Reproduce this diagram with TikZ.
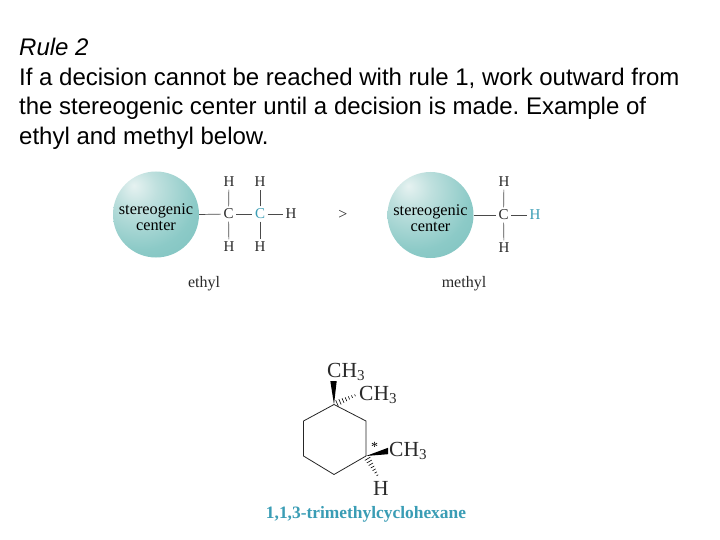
\documentclass[tikz,border=0pt]{standalone}
\usepackage{fontspec}
\setmainfont{Liberation Sans}
\newfontfamily\chemfont{Liberation Serif}
\usetikzlibrary{calc}
\definecolor{tealtext}{HTML}{3A9DB5}
\definecolor{inktext}{HTML}{2A2A2A}
\definecolor{ballA}{HTML}{E6F2F1}
\definecolor{ballB}{HTML}{BFE0DE}
\definecolor{ballC}{HTML}{8CCAC7}
\definecolor{ballD}{HTML}{6FBAB8}
\pgfdeclareradialshading{ballshade}{\pgfpoint{-13bp}{17bp}}{%
  color(0bp)=(ballA);
  color(12bp)=(ballB);
  color(32bp)=(ballC);
  color(62bp)=(ballD);
  color(100bp)=(ballD)}
\tikzset{
  headline/.style={anchor=base west,inner sep=0pt,font=\fontsize{24}{28}\selectfont,text=black},
  atom/.style={inner sep=2.5pt,font=\chemfont\fontsize{15}{15}\selectfont,text=inktext},
  tealatom/.style={atom,text=tealtext},
  caption/.style={inner sep=0pt,font=\chemfont\fontsize{16}{16}\selectfont,text=inktext},
  balltext/.style={inner sep=0pt,align=center,font=\chemfont\fontsize{16.3}{16.5}\selectfont,text=black},
  bond/.style={draw=inktext!85,line width=0.7pt},
  ball/.style={circle,minimum size=86pt,inner sep=0pt,shading=ballshade},
  big/.style={inner sep=0pt,font=\chemfont\fontsize{21.5}{22}\selectfont,text=inktext},
  ringbond/.style={draw=black!85,line width=0.8pt,line join=round},
  wedgefill/.style={fill=black,draw=none},
  hash/.style={draw=black,line width=0.6pt}
}
\newcommand{\hashbond}[3]{% from, to, steps
  \foreach \i in {1,...,#3}{
    \pgfmathsetmacro{\t}{\i/(#3+1)}
    \pgfmathsetmacro{\hw}{0.6+3*(1-\t)}
    \draw[hash] ($(#1)!\t!(#2)!\hw pt!90:(#2)$) -- ($(#1)!\t!(#2)!\hw pt!-90:(#2)$);
  }}
\begin{document}
\frenchspacing
\begin{tikzpicture}[x=1pt,y=-1pt]
\useasboundingbox (0,0) rectangle (720,540);
\fill[white] (0,0) rectangle (720,540);
% heading
\node[headline] (l1) at (19,56) {\itshape Rule 2};
\node[headline] (l2) at (19,85.5) {If a decision cannot be reached with rule 1, work outward from};
\node[headline] (l3) at (19,115) {the stereogenic center until a decision is made. Example of};
\node[headline] (l4) at (19,144.5) {ethyl and methyl below.};
% ethyl
\node[ball] (b1) at (156,214.5) {};
\node[balltext] (b1t) at (156,217) {stereogenic\\center};
\node[atom] (c1) at (228.5,214) {C};
\node[tealatom] (c2) at (260,214) {C};
\node[atom] (h1) at (291,214) {H};
\node[atom] (h2) at (229,182) {H};
\node[atom] (h3) at (260,182) {H};
\node[atom] (h4) at (229,247) {H};
\node[atom] (h5) at (260,247) {H};
\draw[bond] (b1.east) -- (c1);
\draw[bond] (c1) -- (c2);
\draw[bond] (c2) -- (h1);
\draw[bond] (c1) -- (h2);
\draw[bond] (c2) -- (h3);
\draw[bond] (c1) -- (h4);
\draw[bond] (c2) -- (h5);
\node[caption] (e) at (204,283.5) {ethyl};
\node[caption] (gt) at (343,215) {>};
% methyl
\node[ball] (b2) at (430.5,215) {};
\node[balltext] (b2t) at (430.5,218) {stereogenic\\center};
\node[atom] (c3) at (503.5,215) {C};
\node[tealatom] (h6) at (535,215) {H};
\node[atom] (h7) at (504,182) {H};
\node[atom] (h8) at (504,248) {H};
\draw[bond] (b2.east) -- (c3);
\draw[bond] (c3) -- (h6);
\draw[bond] (c3) -- (h7);
\draw[bond] (c3) -- (h8);
\node[caption] (m) at (464,283.5) {methyl};
% ring
\coordinate (r1) at (334,404.5);
\coordinate (r2) at (366,421);
\coordinate (r3) at (366,456);
\coordinate (r4) at (334,474.5);
\coordinate (r5) at (303.5,456);
\coordinate (r6) at (303.5,421);
\draw[ringbond] (r1) -- (r2) -- (r3) -- (r4) -- (r5) -- (r6) -- cycle;
\node[big,anchor=west] (m1) at (327,372) {CH\textsubscript{3}};
\node[big,anchor=west] (m2) at (359,395) {CH\textsubscript{3}};
\node[big,anchor=west] (m3) at (389,451) {CH\textsubscript{3}};
\node[big] (hh) at (381,488.5) {H};
\node[inner sep=0pt,font=\chemfont\fontsize{14}{14}\selectfont] (star) at (374.5,447) {*};
\coordinate (w1) at (333.5,381);
\coordinate (w2) at (388,451);
\coordinate (d1) at (358,394);
\coordinate (d2) at (379,478);
\fill[wedgefill] (r1) -- ($(w1)+(-3.2,0)$) -- ($(w1)+(3.2,0)$) -- cycle;
\fill[wedgefill] (r3) -- ($(w2)+(0,-3.2)$) -- ($(w2)+(0,3.2)$) -- cycle;
\hashbond{r1}{d1}{7}
\hashbond{r3}{d2}{7}
\node[inner sep=0pt,font=\chemfont\bfseries\fontsize{17.4}{18}\selectfont,text=tealtext] (name) at (366,514) {1,1,3-trimethylcyclohexane};
\end{tikzpicture}
\end{document}
